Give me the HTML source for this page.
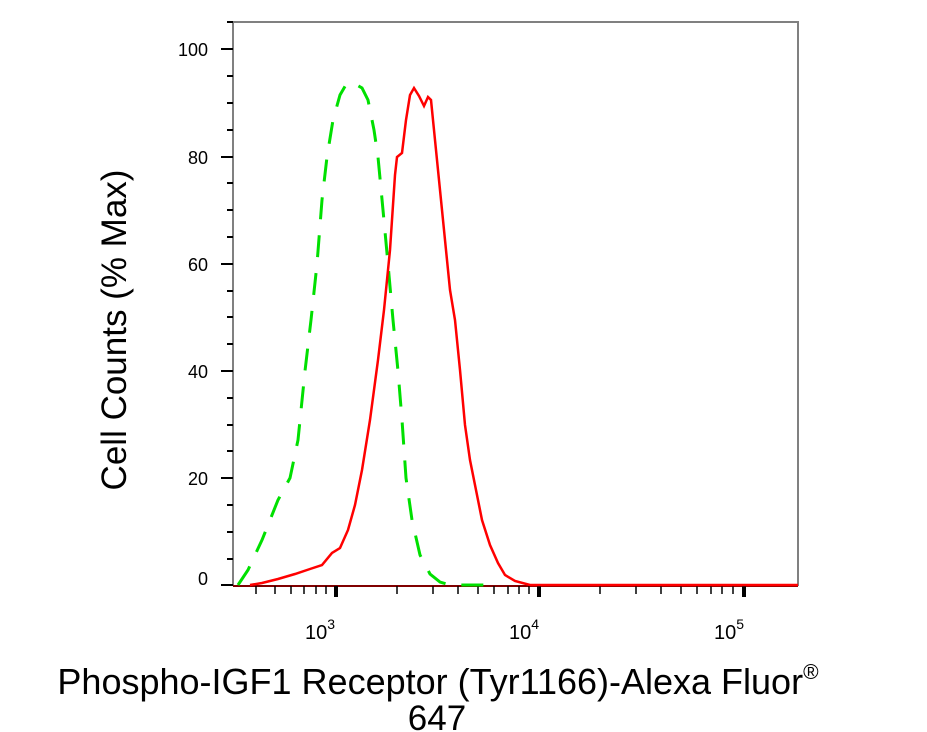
<!DOCTYPE html>
<html><head><meta charset="utf-8"><style>
body{margin:0;background:#fff;}
svg{display:block;font-family:"Liberation Sans",Arial,sans-serif;}
</style></head><body>
<svg width="927" height="732" viewBox="0 0 927 732">
<rect width="927" height="732" fill="#fff"/>
<path d="M233,22 H798 V586" fill="none" stroke="#808080" stroke-width="2"/>
<line x1="233" y1="22" x2="233" y2="586" stroke="#808080" stroke-width="2"/>
<line x1="233" y1="586" x2="798" y2="586" stroke="#800000" stroke-width="2"/>
<g stroke="#000" stroke-width="2">
<line x1="221" y1="49" x2="233" y2="49"/><line x1="221" y1="157" x2="233" y2="157"/>
<line x1="221" y1="264" x2="233" y2="264"/><line x1="221" y1="371" x2="233" y2="371"/>
<line x1="221" y1="478" x2="233" y2="478"/><line x1="221" y1="585" x2="233" y2="585"/>
<line x1="227" y1="22" x2="233" y2="22"/>
<line x1="227" y1="76" x2="233" y2="76"/><line x1="227" y1="103" x2="233" y2="103"/><line x1="227" y1="130" x2="233" y2="130"/>
<line x1="227" y1="183" x2="233" y2="183"/><line x1="227" y1="210" x2="233" y2="210"/><line x1="227" y1="237" x2="233" y2="237"/>
<line x1="227" y1="291" x2="233" y2="291"/><line x1="227" y1="317" x2="233" y2="317"/><line x1="227" y1="344" x2="233" y2="344"/>
<line x1="227" y1="398" x2="233" y2="398"/><line x1="227" y1="425" x2="233" y2="425"/><line x1="227" y1="451" x2="233" y2="451"/>
<line x1="227" y1="505" x2="233" y2="505"/><line x1="227" y1="532" x2="233" y2="532"/><line x1="227" y1="559" x2="233" y2="559"/>
</g>
<g font-size="18" text-anchor="end" fill="#000">
<text x="208" y="56">100</text><text x="208" y="164">80</text><text x="208" y="271">60</text>
<text x="208" y="378">40</text><text x="208" y="485">20</text><text x="208" y="585">0</text>
</g>
<g stroke="#000" stroke-width="1.5">
<line x1="256" y1="586" x2="256" y2="594"/><line x1="275" y1="586" x2="275" y2="594"/><line x1="291" y1="586" x2="291" y2="594"/>
<line x1="304" y1="586" x2="304" y2="594"/><line x1="316" y1="586" x2="316" y2="594"/><line x1="326" y1="586" x2="326" y2="594"/>
<line x1="397" y1="586" x2="397" y2="594"/><line x1="433" y1="586" x2="433" y2="594"/><line x1="458" y1="586" x2="458" y2="594"/>
<line x1="478" y1="586" x2="478" y2="594"/><line x1="494" y1="586" x2="494" y2="594"/><line x1="508" y1="586" x2="508" y2="594"/>
<line x1="519" y1="586" x2="519" y2="594"/><line x1="529" y1="586" x2="529" y2="594"/>
<line x1="600" y1="586" x2="600" y2="594"/><line x1="636" y1="586" x2="636" y2="594"/><line x1="661" y1="586" x2="661" y2="594"/>
<line x1="681" y1="586" x2="681" y2="594"/><line x1="697" y1="586" x2="697" y2="594"/><line x1="711" y1="586" x2="711" y2="594"/>
<line x1="722" y1="586" x2="722" y2="594"/><line x1="733" y1="586" x2="733" y2="594"/>
</g>
<g stroke="#000" stroke-width="4">
<line x1="336" y1="586" x2="336" y2="597"/><line x1="539" y1="586" x2="539" y2="597"/><line x1="744" y1="586" x2="744" y2="597"/>
</g>
<g font-size="20" fill="#000" text-anchor="middle">
<text x="320" y="639">10<tspan dy="-10" font-size="14">3</tspan></text>
<text x="524" y="639">10<tspan dy="-10" font-size="14">4</tspan></text>
<text x="729" y="639">10<tspan dy="-10" font-size="14">5</tspan></text>
</g>
<polyline fill="none" stroke="#00e000" stroke-width="3" stroke-dasharray="22,16"
points="238,585 248,570 262,540 278,500 290,478 298,440 305,371 311,320 317,264 322,200 327,157 333,120 340,95 347,83 355,84 362,88 368,100 374,130 378,157 383,210 388,264 393,320 398,371 402,420 406,478 412,520 420,555 430,574 440,582 450,585 492,585"/>
<polyline fill="none" stroke="#ff0000" stroke-width="2.5"
points="250,585 262,583 278,579 295,574 310,569 322,565 332,553 340,548 348,530 355,505 362,470 370,420 378,360 384,310 390,250 395,175 397,157 402,153 406,120 410,95 414,88 419,96 424,106 428,97 431,100 435,140 440,190 445,240 450,290 455,320 460,370 465,425 470,460 476,490 482,520 490,545 498,563 505,575 515,581 530,585 798,585"/>
<text transform="translate(126,330) rotate(-90)" font-size="35" text-anchor="middle" fill="#000">Cell Counts (% Max)</text>
<text x="438" y="694" font-size="36" text-anchor="middle" fill="#000">Phospho-IGF1 Receptor (Tyr1166)-Alexa Fluor<tspan font-size="21" dy="-15">®</tspan></text>
<text x="437" y="730" font-size="35" text-anchor="middle" fill="#000">647</text>
</svg>
</body></html>
